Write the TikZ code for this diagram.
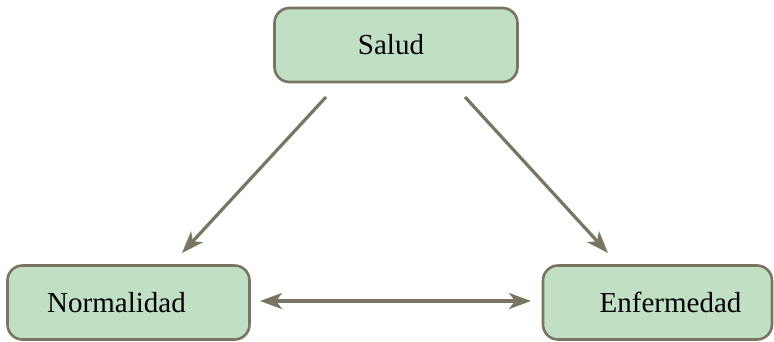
\documentclass[tikz,border=0pt]{standalone}
\usepackage{fontspec}
\setmainfont{Liberation Serif}
\usetikzlibrary{arrows.meta}
\definecolor{boxfill}{HTML}{C0DFC4}
\definecolor{boxline}{HTML}{7B7463}
\definecolor{arrowcol}{HTML}{7A7562}
\begin{document}
\begin{tikzpicture}[x=1pt,y=-1pt,
  box/.style={draw=boxline, fill=boxfill, line width=2.6pt, rounded corners=15pt,
    minimum height=74pt, inner sep=0pt, font=\fontsize{29}{33}\selectfont},
  conn/.style={draw=arrowcol, line width=3.2pt, -{Stealth[length=22pt,width=16pt,inset=6pt]}},
  conn2/.style={draw=arrowcol, line width=3.2pt, {Stealth[length=22pt,width=16pt,inset=6pt]}-{Stealth[length=22pt,width=16pt,inset=6pt]}}]
\useasboundingbox (0,0) rectangle (774,341);
\node[box, minimum width=243pt] (salud) at (396,45) {Salud\kern10pt\null};
\node[box, minimum width=242pt] (norm) at (128.5,302.5) {Normalidad\kern24pt\null};
\node[box, minimum width=229pt] (enf) at (657.5,302.5) {\kern26pt Enfermedad};
\coordinate (s1) at (326,97);
\coordinate (e1) at (182,253);
\coordinate (s2) at (465,97);
\coordinate (e2) at (608,253);
\coordinate (h1) at (260,301);
\coordinate (h2) at (531,301);
\draw[conn] (s1) -- (e1);
\draw[conn] (s2) -- (e2);
\draw[conn2] (h1) -- (h2);
\end{tikzpicture}
\end{document}
